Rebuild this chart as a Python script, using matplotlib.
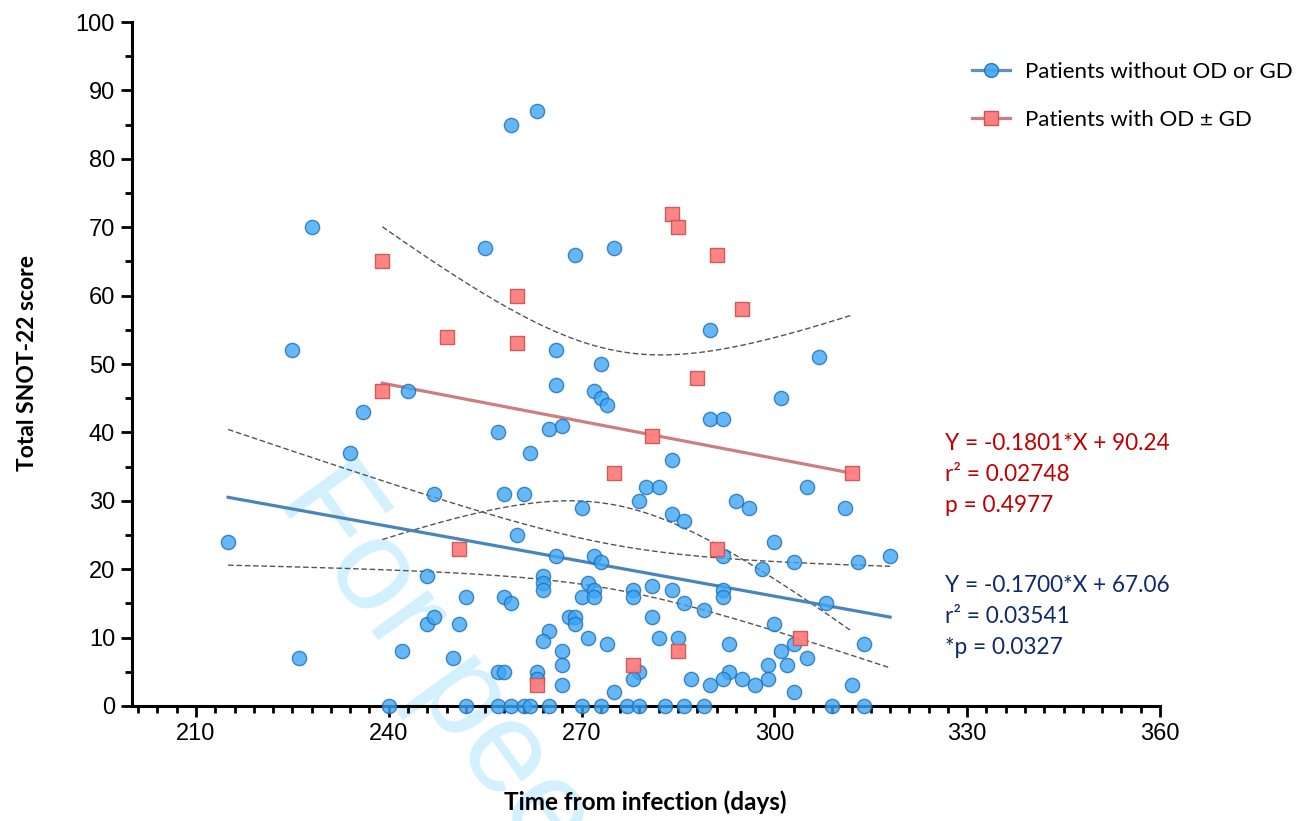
import numpy as np
import matplotlib
matplotlib.use("Agg")
import matplotlib.pyplot as plt
from matplotlib.lines import Line2D

# patients without OD or GD (blue circles)
blue_days = [
    259, 263, 228, 255, 225, 266, 269, 275, 290, 307,
    273, 266, 272, 273, 274, 301, 290, 292, 265, 267,
    243, 236, 234, 257, 262, 284, 247, 258, 261, 280,
    282, 305, 279, 294, 296, 311, 270, 284, 286, 215,
    260, 300, 292, 266, 272, 273, 298, 303, 313, 318,
    246, 264, 264, 264, 252, 258, 259, 271, 272, 270,
    272, 278, 278, 281, 284, 292, 292, 286, 289, 308,
    268, 269, 269, 281, 300, 246, 247, 251, 265, 264,
    271, 274, 282, 285, 293, 303, 305, 301, 302, 314,
    267, 267, 267, 226, 242, 250, 257, 258, 263, 263,
    279, 278, 287, 293, 292, 295, 299, 299, 297, 290,
    275, 303, 312,
    240, 252, 257, 259, 261, 262, 265, 270, 273, 277,
    279, 283, 286, 289, 309, 314,
]
blue_scores = [
    85, 87, 70, 67, 52, 52, 66, 67, 55, 51,
    50, 47, 46, 45, 44, 45, 42, 42, 40.5, 41,
    46, 43, 37, 40, 37, 36, 31, 31, 31, 32,
    32, 32, 30, 30, 29, 29, 29, 28, 27, 24,
    25, 24, 22, 22, 22, 21, 20, 21, 21, 22,
    19, 19, 18, 17, 16, 16, 15, 18, 17, 16,
    16, 17, 16, 17.5, 17, 17, 16, 15, 14, 15,
    13, 13, 12, 13, 12, 12, 13, 12, 11, 9.5,
    10, 9, 10, 10, 9, 9, 7, 8, 6, 9,
    8, 6, 3, 7, 8, 7, 5, 5, 5, 4,
    5, 4, 4, 5, 4, 4, 6, 4, 3, 3,
    2, 2, 3,
    0, 0, 0, 0, 0, 0, 0, 0, 0, 0,
    0, 0, 0, 0, 0, 0,
]

# patients with OD +/- GD (red squares)
red_days = [239, 260, 249, 260, 239, 251, 263, 284, 285, 291,
            295, 288, 281, 275, 312, 291, 278, 285, 304]
red_scores = [65, 60, 54, 53, 46, 23, 3, 72, 70, 66,
              58, 48, 39.5, 34, 34, 23, 6, 8, 10]

# fit results printed on the chart
blue_fit = (-0.1700, 67.06)
red_fit = (-0.1801, 90.24)
blue_stats = ["Y = -0.1700*X + 67.06", "r\u00b2 = 0.03541", "*p = 0.0327"]
red_stats = ["Y = -0.1801*X + 90.24", "r\u00b2 = 0.02748", "p = 0.4977"]
t_blue, t_red = 1.979, 2.110   # t(0.975, n-2)

x_ticks = [210, 240, 270, 300, 330, 360]
y_ticks = list(range(0, 101, 10))

BLUE_FACE, BLUE_EDGE, BLUE_LINE = "#3DA6F5", "#1F6DB5", "#4A84BD"
RED_FACE, RED_EDGE, RED_LINE = "#FF7E7E", "#CF5555", "#CD7E7E"
TXT_FONT = ["Lato", "DejaVu Sans"]


def conf_band(x, y, fit, t_crit, xs):
    """95% confidence band of the regression line."""
    x = np.asarray(x, float)
    y = np.asarray(y, float)
    slope, icpt = fit
    resid = y - (icpt + slope * x)
    s = np.sqrt(np.sum(resid ** 2) / (len(x) - 2))
    sxx = np.sum((x - x.mean()) ** 2)
    se = s * np.sqrt(1 / len(x) + (xs - x.mean()) ** 2 / sxx)
    yhat = icpt + slope * xs
    return yhat - t_crit * se, yhat + t_crit * se


W, H = 1305, 821
fig = plt.figure(figsize=(W / 100, H / 100), dpi=100)
ax = fig.add_axes([131.7 / W, 1 - 706 / H, (1160 - 131.7) / W, (706 - 22) / H])

# watermark (runs off the bottom edge, as in the source figure)
ax.text(276 / W, 1 - 500 / H, "For peer review", transform=fig.transFigure,
        rotation=-54, rotation_mode="anchor", ha="left", va="baseline",
        fontsize=94, color="#D2F0FD", family="Liberation Sans",
        clip_on=False, zorder=0.5)

# regression lines and confidence bands
for days, scores, fit, t_crit, col in [(blue_days, blue_scores, blue_fit, t_blue, BLUE_LINE),
                                       (red_days, red_scores, red_fit, t_red, RED_LINE)]:
    xs = np.linspace(min(days), max(days), 200)
    lo, hi = conf_band(days, scores, fit, t_crit, xs)
    ax.plot(xs, lo, color="#555555", lw=1, ls=(0, (4, 2)), zorder=1)
    ax.plot(xs, hi, color="#555555", lw=1, ls=(0, (4, 2)), zorder=1)
    ax.plot(xs, fit[1] + fit[0] * xs, color=col, lw=2.3, zorder=1.5)

ax.scatter(blue_days, blue_scores, s=105, marker="o", facecolor=BLUE_FACE,
           edgecolor=BLUE_EDGE, linewidth=1, alpha=0.8, zorder=3, clip_on=False)
ax.scatter(red_days, red_scores, s=100, marker="s", facecolor=RED_FACE,
           edgecolor=RED_EDGE, linewidth=1, alpha=0.95, zorder=4, clip_on=False)

# axes styling
ax.set_xlim(200, 360)
ax.set_ylim(0, 100)
ax.set_xticks(x_ticks)
ax.set_xticks(np.arange(201, 361, 3), minor=True)
ax.set_yticks(y_ticks)
ax.set_yticks(np.arange(0, 101, 5), minor=True)
for side in ["top", "right"]:
    ax.spines[side].set_visible(False)
for side in ["left", "bottom"]:
    ax.spines[side].set_linewidth(2.2)
ax.tick_params(which="major", length=8, width=2, labelsize=17, pad=4)
ax.tick_params(which="minor", length=5, width=2)
for lab in ax.get_xticklabels() + ax.get_yticklabels():
    lab.set_family("Liberation Sans")

fig.text(28 / W, 1 - 363 / H, "Total SNOT-22 score", rotation=90, ha="center",
         va="center", fontsize=16.5, fontweight="bold", family=TXT_FONT)
fig.text(645 / W, 1 - 802 / H, "Time from infection (days)", ha="center",
         va="center", fontsize=17.5, fontweight="bold", family=TXT_FONT)

# fit statistics
for i, line in enumerate(red_stats):
    fig.text(945 / W, 1 - (443 + 31 * i) / H, line, ha="left", va="center",
             fontsize=16.3, color="#C00000", family=TXT_FONT)
for i, line in enumerate(blue_stats):
    fig.text(945 / W, 1 - (585 + 31 * i) / H, line, ha="left", va="center",
             fontsize=16.3, color="#0E2A6B", family=TXT_FONT)

handles = [
    Line2D([], [], color=BLUE_LINE, lw=2.3, marker="o", markersize=10,
           markerfacecolor=BLUE_FACE, markeredgecolor=BLUE_EDGE, alpha=0.9),
    Line2D([], [], color=RED_LINE, lw=2.3, marker="s", markersize=10,
           markerfacecolor=RED_FACE, markeredgecolor=RED_EDGE),
]
leg = fig.legend(handles, ["Patients without OD or GD", "Patients with OD \u00b1 GD"],
                 loc="upper left", bbox_to_anchor=(952 / W, 1 - 42 / H),
                 frameon=False, handlelength=1.7, handletextpad=0.7,
                 labelspacing=1.25, prop={"family": TXT_FONT, "size": 16})

fig.savefig("out.png", dpi=100)
